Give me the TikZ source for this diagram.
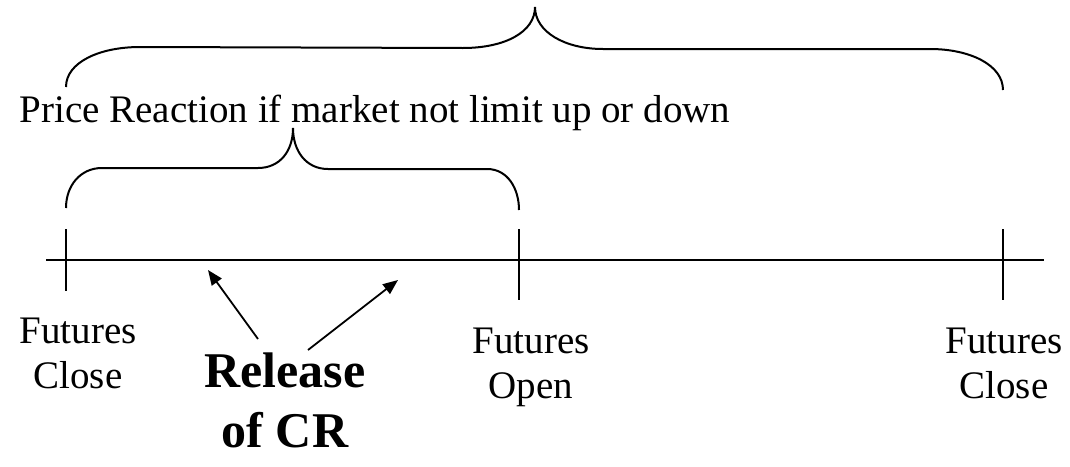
\documentclass[tikz,border=0pt]{standalone}
\usepackage{fontspec}
\setmainfont{Liberation Serif}
\usetikzlibrary{arrows.meta}
\begin{document}
\begin{tikzpicture}[x=1pt,y=-1pt,
    axisline/.style={line width=2pt},
    bracepath/.style={line width=2pt},
    crarrow/.style={line width=1.8pt,-{Triangle[length=15pt,width=12pt]}},
    label/.style={font=\fontsize{39}{45}\selectfont,align=center,inner sep=0pt,anchor=base},
    crlabel/.style={font=\bfseries\fontsize{50}{60}\selectfont,align=center,inner sep=0pt,anchor=base}]
  \useasboundingbox (0,0) rectangle (1070,466);

  % time axis and its ticks
  \coordinate (axisL) at (46,260);
  \coordinate (axisR) at (1044,260);
  \draw[axisline] (axisL) -- (axisR);
  \draw[axisline] (66,229) -- (66,291);
  \draw[axisline] (519,229) -- (519,300);
  \draw[axisline] (1003,229) -- (1003,300);

  % outer brace, close to close
  \draw[bracepath] (66,87) .. controls (66,62) and (100,47) .. (140,47)
    -- (463,48) .. controls (505,48) and (535,32) .. (535,7)
    .. controls (535,32) and (565,49) .. (603,49)
    -- (930,49) .. controls (970,49) and (1003,65) .. (1003,90);

  % inner brace, close to open
  \draw[bracepath] (66,208) .. controls (66,186) and (80,168) .. (102,168)
    -- (258,168) .. controls (280,168) and (293,151) .. (293,128)
    .. controls (293,151) and (306,169) .. (328,169)
    -- (487,169) .. controls (508,169) and (519,189) .. (519,210);

  \node[label] (reaction) at (375,122) {Price Reaction if market not limit up or down};

  % two-line labels: the base anchor sits on the last line
  \node[label] (close1) at (78,388) {Futures\\Close};
  \node[label] (open1) at (531,398) {Futures\\Open};
  \node[label] (close2) at (1004,398) {Futures\\Close};

  \node[crlabel] (release) at (285,447) {Release\\of CR};

  \coordinate (tailA) at (258,339);
  \coordinate (tipA) at (208,270);
  \coordinate (tailB) at (308,350);
  \coordinate (tipB) at (398,280);
  \draw[crarrow] (tailA) -- (tipA);
  \draw[crarrow] (tailB) -- (tipB);
\end{tikzpicture}
\end{document}
